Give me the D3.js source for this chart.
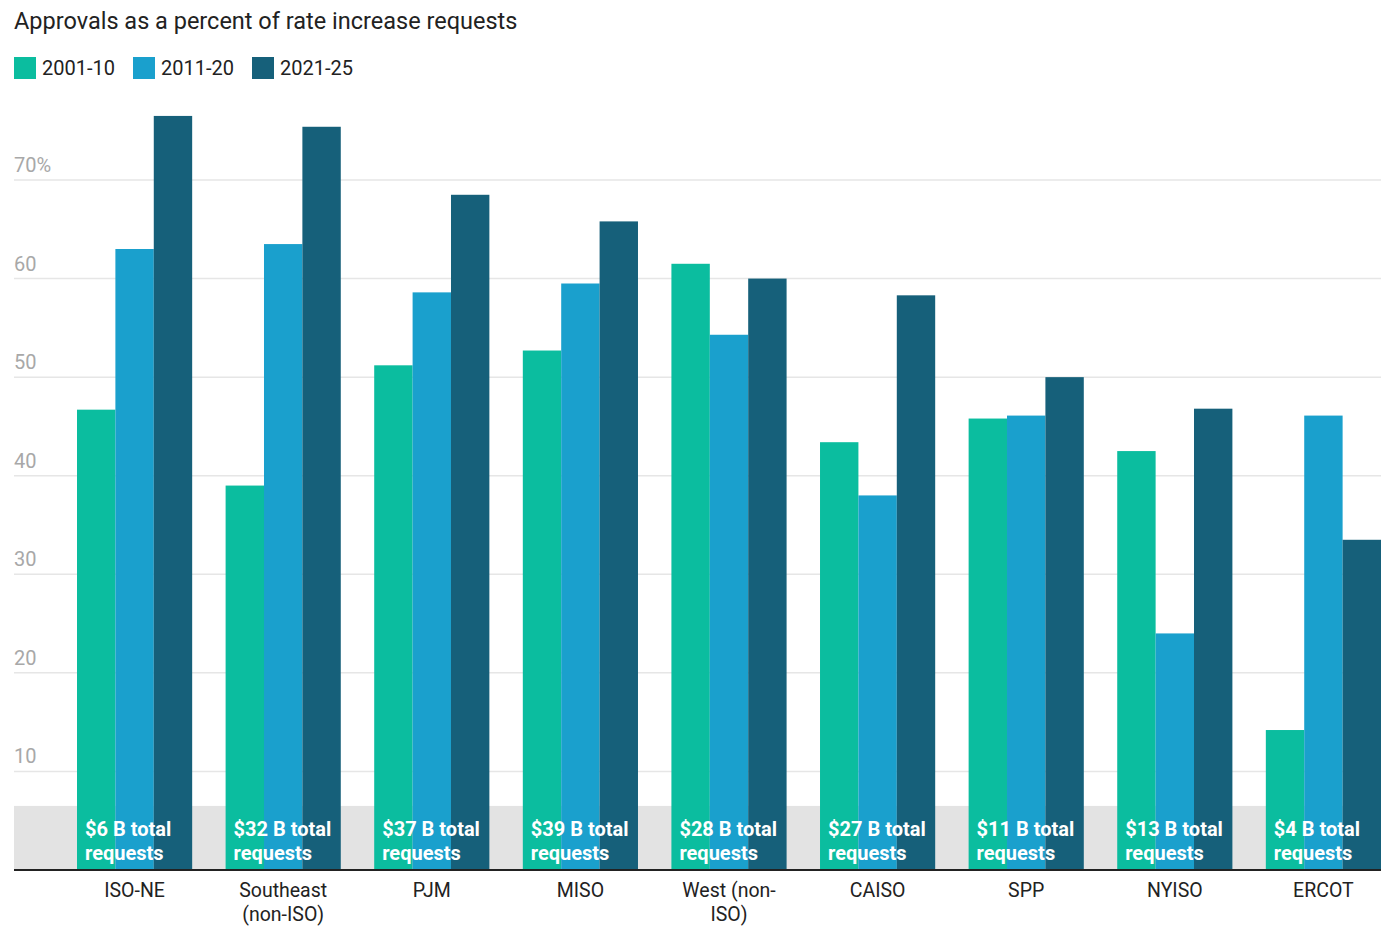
<!DOCTYPE html>
<html>
<head>
<meta charset="utf-8">
<script src="https://cdn.jsdelivr.net/npm/d3@7"></script>
<style>
  body { margin: 0; background: #fff; font-family: Roboto, "Noto Sans", sans-serif; }
  .grid line { stroke: #e6e6e6; stroke-width: 1.5; }
  .ylab { fill: #a8a8a8; font-size: 20px; }
  .xlab { fill: #222; font-size: 19.5px; }
  .note { fill: #fff; font-size: 20px; font-weight: 700; }
</style>
</head>
<body>
<script>
const categories = ["ISO-NE", "Southeast (non-ISO)", "PJM", "MISO", "West (non-ISO)", "CAISO", "SPP", "NYISO", "ERCOT"];
const seriesNames = ["2001-10", "2011-20", "2021-25"];
const s2001 = [46.7, 39.0, 51.2, 52.7, 61.5, 43.4, 45.8, 42.5, 14.2];
const s2011 = [63.0, 63.5, 58.6, 59.5, 54.3, 38.0, 46.1, 24.0, 46.1];
const s2021 = [76.5, 75.4, 68.5, 65.8, 60.0, 58.3, 50.0, 46.8, 33.5];
const totals = ["$6 B", "$32 B", "$37 B", "$39 B", "$28 B", "$27 B", "$11 B", "$13 B", "$4 B"];
const yTicks = [10, 20, 30, 40, 50, 60, 70];
const bandValue = 6.5;

const colors = ["#0bbd9f", "#1aa0cd", "#16607a"];
const width = 1381;
const height = 926;

const svg = d3.select("body")
  .append("svg")
  .attr("width", width)
  .attr("height", height);

const left = 14, right = 1381, baseY = 870;

const x = d3.scaleBand()
  .domain(categories)
  .range([77, right])
  .paddingInner(0.225)
  .paddingOuter(0);

const xs = d3.scaleBand()
  .domain(seriesNames)
  .range([0, x.bandwidth()]);

const y = d3.scaleLinear()
  .domain([0, 70])
  .range([baseY, 180]);

// title
svg.append("text")
  .attr("x", 14)
  .attr("y", 29)
  .style("font-size", "23.5px")
  .style("fill", "#222")
  .text("Approvals as a percent of rate increase requests");

// legend
const legend = svg.append("g").attr("transform", "translate(14,57)");
seriesNames.forEach((s, i) => {
  const g = legend.append("g").attr("transform", "translate(" + (i * 119) + ",0)");
  g.append("rect").attr("width", 22).attr("height", 22).attr("fill", colors[i]);
  g.append("text").attr("x", 28).attr("y", 18)
    .style("font-size", "20px").style("fill", "#222").text(s);
});

// gridlines + y labels
const grid = svg.append("g").attr("class", "grid");
grid.selectAll("line")
  .data(yTicks)
  .join("line")
  .attr("x1", left).attr("x2", right)
  .attr("y1", d => y(d)).attr("y2", d => y(d));

svg.append("g").selectAll("text")
  .data(yTicks)
  .join("text")
  .attr("class", "ylab")
  .attr("x", left)
  .attr("y", d => y(d) - 8)
  .text(d => d === 70 ? d + "%" : d);

// grey annotation band
svg.append("rect")
  .attr("x", left)
  .attr("y", y(bandValue))
  .attr("width", right - left)
  .attr("height", y(0) - y(bandValue))
  .attr("fill", "#e3e3e3");

// bars
const rows = categories.map((c, i) => ({cat: c, vals: [s2001[i], s2011[i], s2021[i]]}));

const groups = svg.append("g").selectAll("g")
  .data(rows)
  .join("g")
  .attr("transform", d => "translate(" + x(d.cat) + ",0)");

groups.selectAll("rect")
  .data(d => d.vals.map((v, i) => ({s: seriesNames[i], v: v, i: i})))
  .join("rect")
  .attr("x", d => xs(d.s))
  .attr("width", xs.bandwidth())
  .attr("y", d => y(d.v))
  .attr("height", d => y(0) - y(d.v))
  .attr("fill", d => colors[d.i]);

// annotation text
groups.append("text")
  .attr("class", "note")
  .attr("y", 836)
  .each(function(d, i) {
    const t = d3.select(this);
    t.append("tspan").attr("x", 8).text(totals[i] + " total");
    t.append("tspan").attr("x", 8).attr("dy", 24).text("requests");
  });

// baseline
svg.append("line")
  .attr("x1", left).attr("x2", right)
  .attr("y1", baseY).attr("y2", baseY)
  .attr("stroke", "#222").attr("stroke-width", 2);

// x axis labels (wrapped)
const xAxis = d3.axisBottom(x).tickSize(0).tickPadding(0);
const ax = svg.append("g")
  .attr("transform", "translate(0," + baseY + ")")
  .call(xAxis);
ax.select(".domain").remove();
ax.selectAll("text")
  .attr("class", "xlab")
  .attr("fill", null)
  .style("font-family", "Roboto, sans-serif")
  .attr("y", 27)
  .attr("dy", 0)
  .call(wrap, 108);

function wrap(sel, w) {
  sel.each(function() {
    const t = d3.select(this);
    const tokens = t.text().match(/[^\s-]+-?\s?/g);
    t.text(null);
    let line = "", lines = [];
    tokens.forEach(tok => {
      const test = line + tok;
      t.text(test.trim());
      if (this.getComputedTextLength() > w && line) {
        lines.push(line.trim());
        line = tok;
      } else {
        line = test;
      }
    });
    lines.push(line.trim());
    t.text(null);
    lines.forEach((l, k) => {
      t.append("tspan").attr("x", 0).attr("dy", k ? 24 : 0).text(l);
    });
  });
}
</script>
</body>
</html>
